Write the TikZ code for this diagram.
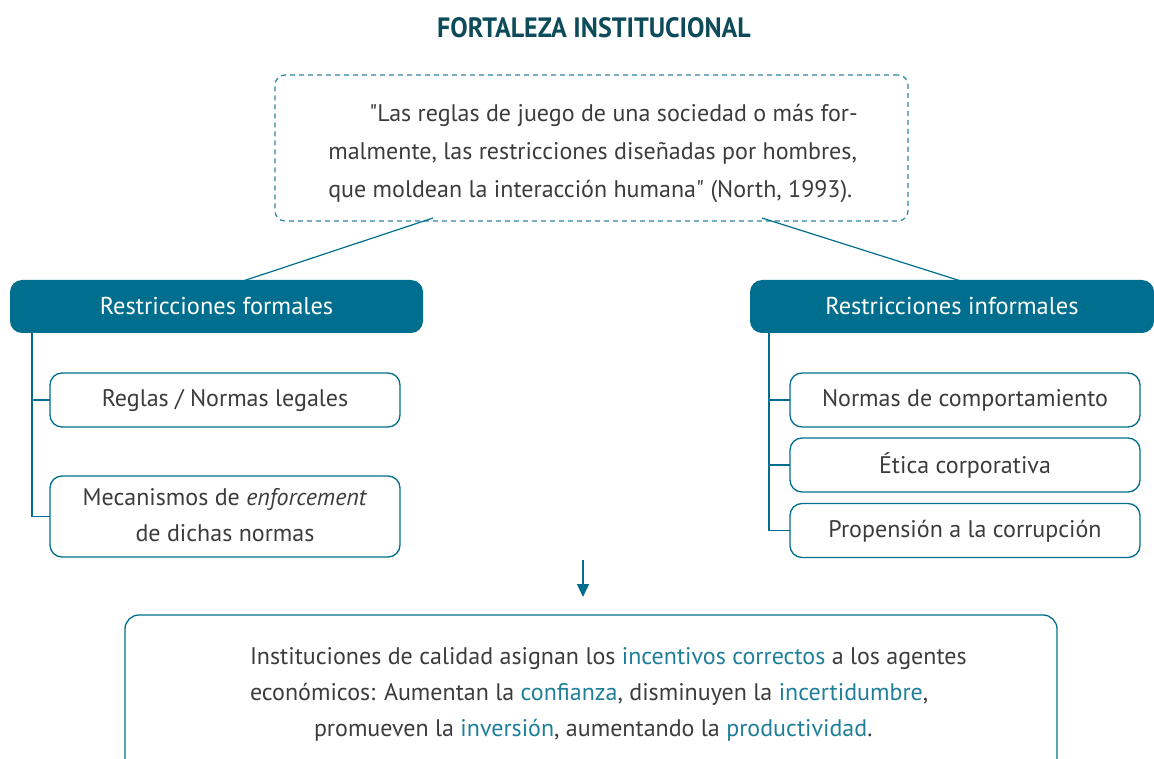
\documentclass[tikz,border=0pt]{standalone}
\usepackage{fontspec}
\setmainfont{PT Sans}
\newfontfamily\titlefont[FakeStretch=0.93]{PT Sans}
\usetikzlibrary{arrows.meta}
\definecolor{teal1}{HTML}{006E8E}
\definecolor{titlec}{HTML}{0E4B5A}
\definecolor{dashc}{HTML}{2D86A0}
\definecolor{txt}{HTML}{3C3C3C}
\definecolor{hl}{HTML}{1F7F9A}
\newcommand{\hlt}[1]{\textcolor{hl}{#1}}
\tikzset{
  every node/.style={inner sep=0pt, outer sep=0pt, text=txt},
  body/.style={font=\fontsize{24}{38}\selectfont},
  header/.style={fill=teal1, rounded corners=12pt, draw=none, text=white, font=\fontsize{24.4}{28}\selectfont, minimum height=53pt},
  itembox/.style={draw=teal1, line width=1.3pt, rounded corners=12pt, fill=white, minimum width=350pt, align=center, font=\fontsize{24}{36}\selectfont, text depth=4pt},
  link/.style={draw=teal1, line width=1.3pt},
}
\begin{document}
\begin{tikzpicture}[x=1pt,y=-1pt]
\useasboundingbox (0,0) rectangle (1154,759);
% title
\node[font=\fontsize{28}{30}\titlefont\bfseries, text=titlec] (title) at (594,28) {FORTALEZA INSTITUCIONAL};
% quote box
\node[draw=dashc, dashed, dash pattern=on 5pt off 4pt, line width=1.2pt, rounded corners=10pt, minimum width=633pt, minimum height=146pt] (quote) at (591.5,148) {};
\node[body, align=left, anchor=center] (qtext) at (593,154) {\hspace*{41pt}\textquotedbl Las reglas de juego de una sociedad o más for-\\malmente, las restricciones diseñadas por hombres,\\que moldean la interacción humana\textquotedbl{} (North, 1993).};
% headers
\node[header, minimum width=413pt] (lh) at (216.5,306.5) {Restricciones formales};
\node[header, minimum width=404pt] (rh) at (952,306.5) {Restricciones informales};
\draw[link, line width=1.2pt] ([xshift=-158.5pt,yshift=3pt]quote.south) -- ([xshift=20.5pt,yshift=-3pt]lh.north);
\draw[link, line width=1.2pt] ([xshift=170.5pt,yshift=3pt]quote.south) -- ([xshift=12pt,yshift=-2pt]rh.north);
% left items
\node[itembox, minimum height=54pt] (l1) at (225,400) {Reglas / Normas legales};
\node[itembox, minimum height=81pt] (l2) at (225,516.5) {Mecanismos de \textit{enforcement}\\de dichas normas};
% right items
\node[itembox, minimum height=54pt] (r1) at (965,400) {Normas de comportamiento};
\node[itembox, minimum height=54pt] (r2) at (965,465) {Ética corporativa};
\node[itembox, minimum height=54pt] (r3) at (965,530.5) {Propensión a la corrupción};
% tree lines
\coordinate (lt) at ([xshift=22pt]lh.south west);
\coordinate (rt) at ([xshift=19pt]rh.south west);
\draw[link] (lt) |- (l1.west);
\draw[link] (lt) |- (l2.west);
\draw[link] (rt) |- (r1.west);
\draw[link] (rt) |- (r2.west);
\draw[link] (rt) |- (r3.west);
% arrow
\coordinate (as) at (583,560);
\coordinate (ae) at (583,597);
\draw[link, -{Triangle[width=12pt,length=13pt]}] (as) -- (ae);
% bottom box
\node[draw=teal1, line width=1.3pt, rounded corners=14pt, minimum width=932pt, minimum height=170pt] (bot) at (591,700) {};
\node[font=\fontsize{24}{36}\selectfont, align=left, anchor=north west] (btext) at (250,648) {Instituciones de calidad asignan los \hlt{incentivos correctos} a los agentes\\económicos: Aumentan la \hlt{confianza}, disminuyen la \hlt{incertidumbre},\\\hspace*{64pt}promueven la \hlt{inversión}, aumentando la \hlt{productividad}.};
\end{tikzpicture}
\end{document}
